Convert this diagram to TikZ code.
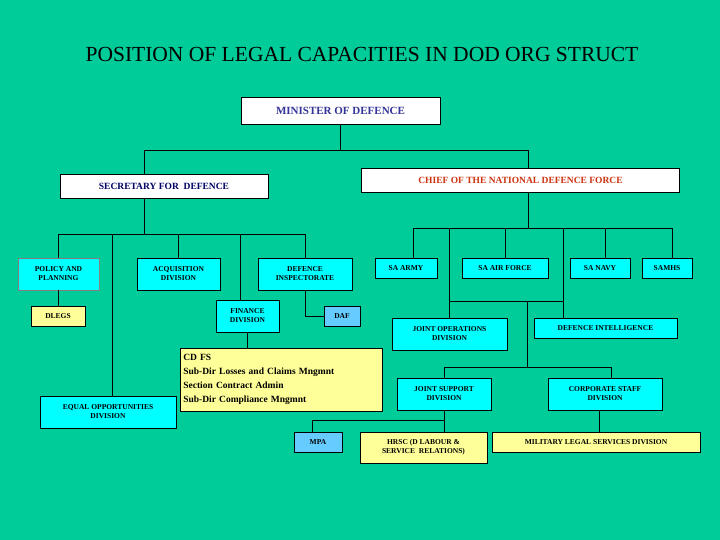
\documentclass[tikz,border=0pt]{standalone}
\usepackage{fontspec}
\setmainfont{Liberation Serif}
\begin{document}
\begin{tikzpicture}[x=1pt,y=-1pt,
  bx/.style={draw=black,line width=0.6pt,inner sep=1pt,align=center,font=\bfseries\fontsize{7.5}{9}\selectfont},
  cy/.style={bx,fill={rgb,255:red,0;green,255;blue,255}},
  yl/.style={bx,fill={rgb,255:red,255;green,255;blue,153}},
  wh/.style={bx,fill=white},
  ln/.style={draw=black,line width=0.6pt}]
\definecolor{bg}{RGB}{0,204,153}
\fill[bg] (0,0) rectangle (720,540);
\useasboundingbox (0,0) rectangle (720,540);
\node (title) at (362,54) {\fontsize{21.5}{24}\selectfont POSITION OF LEGAL CAPACITIES IN DOD ORG STRUCT};
\node[wh,minimum width=199,minimum height=27,font=\bfseries\fontsize{11}{13}\selectfont,text={rgb,255:red,51;green,51;blue,153}] (min) at (340.5,110.5) {MINISTER OF DEFENCE};
\node[wh,minimum width=208,minimum height=24,font=\bfseries\fontsize{9.5}{11}\selectfont,text={rgb,255:red,0;green,0;blue,102}] (sec) at (164,186) {SECRETARY FOR \ DEFENCE};
\node[wh,minimum width=318,minimum height=24,font=\bfseries\fontsize{9.5}{11}\selectfont,text={rgb,255:red,204;green,51;blue,17}] (cndf) at (520.5,180.5) {CHIEF OF THE NATIONAL DEFENCE FORCE};
% secretary side
\node[cy,draw=gray,minimum width=81,minimum height=32] (pol) at (58.5,274) {POLICY AND\\PLANNING};
\node[cy,minimum width=83,minimum height=32] (acq) at (178.5,274) {ACQUISITION\\DIVISION};
\node[cy,minimum width=94,minimum height=32] (ins) at (305,274) {DEFENCE\\INSPECTORATE};
\node[cy,minimum width=63,minimum height=32] (fin) at (247.5,316) {FINANCE\\DIVISION};
\node[yl,minimum width=54,minimum height=20] (dleg) at (58,316) {DLEGS};
\node[bx,fill={rgb,255:red,102;green,204;blue,255},minimum width=36,minimum height=20] (daf) at (342,316) {DAF};
\node[cy,minimum width=136,minimum height=32] (eq) at (108,412) {EQUAL OPPORTUNITIES\\DIVISION};
\node[yl,minimum width=202,minimum height=63,align=left,anchor=north west,text width=196,font=\bfseries\fontsize{9.5}{14}\selectfont] (cdfs) at (180,348) {CD FS\\Sub-Dir Losses and Claims Mngmnt\\Section Contract Admin\\Sub-Dir Compliance Mngmnt};
\node[bx,fill={rgb,255:red,102;green,204;blue,255},minimum width=48,minimum height=20] (mpa) at (318,442) {MPA};
% CNDF side
\node[cy,minimum width=62,minimum height=20] (army) at (406,268) {SA ARMY};
\node[cy,minimum width=86,minimum height=20] (af) at (505,268) {SA AIR FORCE};
\node[cy,minimum width=60,minimum height=20] (navy) at (600,268) {SA NAVY};
\node[cy,minimum width=50,minimum height=20] (samhs) at (667,268) {SAMHS};
\node[cy,minimum width=115,minimum height=32] (jod) at (449.5,334) {JOINT OPERATIONS\\DIVISION};
\node[cy,minimum width=143,minimum height=20] (di) at (605.5,328) {DEFENCE INTELLIGENCE};
\node[cy,minimum width=94,minimum height=32] (jsd) at (444,394) {JOINT SUPPORT\\DIVISION};
\node[cy,minimum width=114,minimum height=32] (csd) at (605,394) {CORPORATE STAFF\\DIVISION};
\node[yl,minimum width=127,minimum height=31] (hrsc) at (423.5,447.5) {HRSC (D LABOUR \&\\SERVICE \ RELATIONS)};
\node[yl,minimum width=208,minimum height=20] (mlsd) at (596,442) {MILITARY LEGAL SERVICES DIVISION};
% junction coordinates
\coordinate (j0) at (340.5,150);
\coordinate (j1) at (144,234);
\coordinate (j2) at (528,228);
\coordinate (j3) at (506,301);
\coordinate (j4) at (527,367);
\coordinate (j5) at (444,420);
% connectors
\draw[ln] (min.south) -- (j0);
\draw[ln] (j0) -| (sec.north -| j1);
\draw[ln] (j0) -| (cndf.north -| j2);
\draw[ln] (sec.south -| j1) -- (j1);
\draw[ln] (j1) -| (pol.north);
\draw[ln] (j1) -| (ins.north);
\draw[ln] (j1 -| acq.north) -- (acq.north);
\draw[ln] (j1 -| 112,0) -- (eq.north -| 112,0);
\draw[ln] (j1 -| 240,0) -- (fin.north -| 240,0);
\draw[ln] (pol.south) -- (dleg.north -| pol.south);
\draw[ln] (ins.south) |- (daf.west);
\draw[ln] (fin.south) -- (cdfs.north -| fin.south);
\draw[ln] (cndf.south -| j2) -- (j2);
\draw[ln] (j2) -| (army.north -| 413,0);
\draw[ln] (j2) -| (samhs.north -| 672,0);
\draw[ln] (j2 -| af.north) -- (af.north);
\draw[ln] (j2 -| 605,0) -- (navy.north -| 605,0);
\draw[ln] (j2 -| jod.north) -- (jod.north);
\draw[ln] (j2 -| 563,0) -- (di.north -| 563,0);
\draw[ln] (j3 -| jod.north) -- (j3 -| 563,0);
\draw[ln] (j3 -| j4) -- (j4);
\draw[ln] (j4) -| (jsd.north);
\draw[ln] (j4) -| (csd.north -| 611,0);
\draw[ln] (jsd.south) -- (hrsc.north -| jsd.south);
\draw[ln] (j5) -| (mpa.north -| 312,0);
\draw[ln] (csd.south -| 599,0) -- (mlsd.north -| 599,0);
\end{tikzpicture}
\end{document}
